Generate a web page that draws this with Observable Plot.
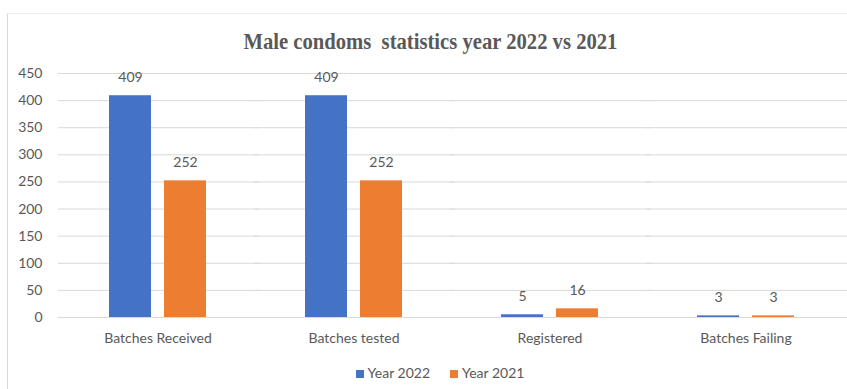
<!DOCTYPE html>
<html>
<head>
<meta charset="utf-8">
<script src="https://cdn.jsdelivr.net/npm/d3@7"></script>
<script src="https://cdn.jsdelivr.net/npm/@observablehq/plot@0.6"></script>
<style>
  html, body { margin: 0; padding: 0; background: #fff; }
  body { width: 847px; height: 389px; position: relative; overflow: hidden; }
  #frame { position: absolute; left: 7px; top: 13px; width: 860px; height: 400px;
           border-left: 1px solid #d9d9d9; border-top: 1px solid #ededed; }
  #title { position: absolute; left: 0; width: 861px; top: 29px; text-align: center;
           font-family: "Liberation Serif", serif; font-weight: bold; font-size: 24px;
           color: #595959; white-space: pre; line-height: 24px; }
  #title span { display: inline-block; transform: scaleX(0.86); transform-origin: center; }
  #chart { position: absolute; left: 0; top: 55px; }
  #legend { position: absolute; left: 0; width: 880px; top: 364px; text-align: center;
            font-family: Lato, sans-serif; font-size: 14px; color: #595959; line-height: 18px; }
  .item { display: inline-block; margin: 0 10px; }
  .sw { display: inline-block; width: 8px; height: 8px; margin-right: 4px; vertical-align: 0px; }
</style>
</head>
<body>
<div id="frame"></div>
<div id="title"><span>Male condoms  statistics year 2022 vs 2021</span></div>
<div id="chart"></div>
<div id="legend"></div>
<script>
const categories = ["Batches Received", "Batches tested", "Registered", "Batches Failing"];
const seriesNames = ["Year 2022", "Year 2021"];
const year2022 = [409, 409, 5, 3];
const year2021 = [252, 252, 16, 3];
const yTicks = [0, 50, 100, 150, 200, 250, 300, 350, 400, 450];
const colors = ["#4472C4", "#ED7D31"];

const rows = [];
categories.forEach((c, i) => {
  rows.push({cat: c, series: seriesNames[0], value: year2022[i]});
  rows.push({cat: c, series: seriesNames[1], value: year2021[i]});
});

const chart = Plot.plot({
  width: 847,
  height: 297,
  marginTop: 18,
  marginBottom: 35,
  marginLeft: 58,
  marginRight: 3,
  style: {fontFamily: "Lato, sans-serif", fontSize: "14px", color: "#595959", background: "transparent"},
  fx: {domain: categories, paddingInner: 0.496, paddingOuter: 0.248, label: null, axis: "bottom", tickSize: 0, tickPadding: 16},
  x: {domain: seriesNames, paddingInner: 0.232, paddingOuter: 0, axis: null},
  y: {domain: [0, 450], ticks: yTicks, tickSize: 0, tickPadding: 66, label: null},
  color: {domain: seriesNames, range: colors},
  marks: [
    Plot.ruleY(yTicks, {stroke: "#d9d9d9", strokeWidth: 1, insetLeft: -50, insetRight: -52}),
    Plot.barY(rows, {fx: "cat", x: "series", y: "value", fill: "series"}),
    Plot.text(rows, {fx: "cat", x: "series", y: "value", text: d => String(d.value), dy: -18, fill: "#595959", fontSize: 14})
  ]
});
document.getElementById("chart").appendChild(chart);

const legend = document.getElementById("legend");
seriesNames.forEach((s, i) => {
  const item = document.createElement("span");
  item.className = "item";
  const sw = document.createElement("span");
  sw.className = "sw";
  sw.style.background = colors[i];
  item.appendChild(sw);
  item.appendChild(document.createTextNode(s));
  legend.appendChild(item);
});
</script>
</body>
</html>
